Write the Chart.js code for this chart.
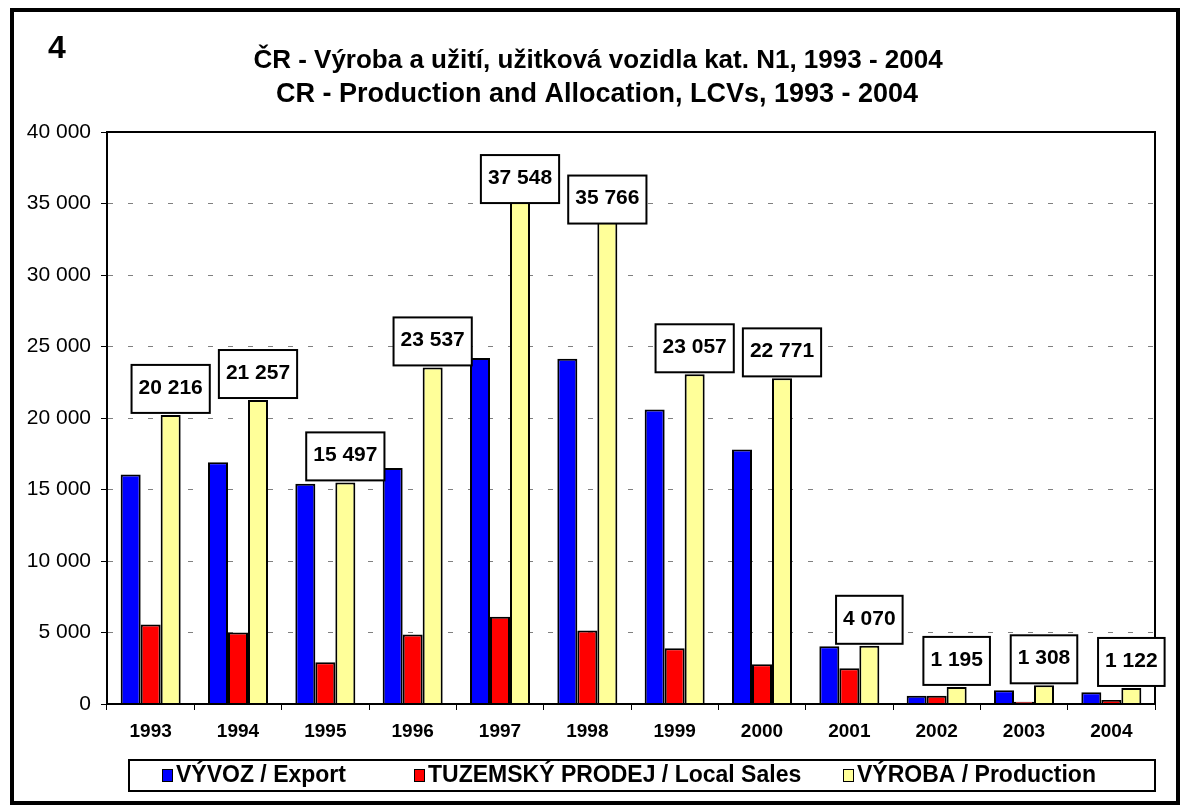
<!DOCTYPE html>
<html>
<head>
<meta charset="utf-8">
<script src="https://cdn.jsdelivr.net/npm/chart.js@4.4.1/dist/chart.umd.min.js"></script>
<style>
html,body{margin:0;padding:0;background:#fff;overflow:hidden}
#wrap{width:1181px;height:805px;position:relative}
</style>
</head>
<body>
<div id="wrap"><canvas id="c" width="1181" height="805"></canvas></div>
<script>
// ---- data ----
const categories = ['1993','1994','1995','1996','1997','1998','1999','2000','2001','2002','2003','2004'];
const exportValues = [16050, 16900, 15400, 16500, 24200, 24150, 20600, 17800, 4030, 580, 970, 830];
const localSalesValues = [5560, 5000, 2920, 4860, 6110, 5140, 3890, 2780, 2500, 580, 160, 280];
const productionValues = [20216, 21257, 15497, 23537, 37548, 35766, 23057, 22771, 4070, 1195, 1308, 1122];
const seriesLabels = ['VÝVOZ / Export', 'TUZEMSKÝ PRODEJ / Local Sales', 'VÝROBA / Production'];
const yTickValues = [0, 5000, 10000, 15000, 20000, 25000, 30000, 35000, 40000];
const titleLines = ['ČR - Výroba a užití, užitková vozidla kat. N1, 1993 - 2004',
                    'CR - Production and Allocation, LCVs, 1993 - 2004'];
const chartNumber = '4';

const FONT = '"Liberation Sans", Arial, Helvetica, sans-serif';
const fmt = v => String(Math.round(v)).replace(/\B(?=(\d{3})+(?!\d))/g, ' ');

const decorPlugin = {
  id: 'decor',
  beforeDraw(chart) {
    const ctx = chart.ctx;
    ctx.save();
    ctx.fillStyle = '#fff';
    ctx.fillRect(0, 0, chart.width, chart.height);
    ctx.restore();
  },
  afterDatasetsDraw(chart) {
    const ctx = chart.ctx;
    const a = chart.chartArea;
    ctx.save();
    ctx.strokeStyle = '#000';
    ctx.lineWidth = 2;
    ctx.strokeRect(a.left, a.top, a.right - a.left, a.bottom - a.top);
    ctx.restore();
  },
  afterDraw(chart) {
    const ctx = chart.ctx;
    ctx.save();
    // outer frame
    ctx.strokeStyle = '#000';
    ctx.lineWidth = 4;
    ctx.strokeRect(12, 10, 1166, 793);
    // number
    ctx.fillStyle = '#000';
    ctx.font = 'bold 32px ' + FONT;
    ctx.textAlign = 'left';
    ctx.textBaseline = 'alphabetic';
    ctx.fillText(chartNumber, 48, 58);
    // title
    ctx.textAlign = 'center';
    ctx.font = 'bold 26px ' + FONT;
    ctx.fillText(titleLines[0], 598, 68);
    ctx.font = 'bold 27px ' + FONT;
    ctx.fillText(titleLines[1], 597, 102);
    // legend
    const lx = 129, ly = 760, lw = 1026, lh = 31;
    ctx.fillStyle = '#fff';
    ctx.fillRect(lx, ly, lw, lh);
    ctx.lineWidth = 2;
    ctx.strokeStyle = '#000';
    ctx.strokeRect(lx, ly, lw, lh);
    const itemX = [162, 414, 843];
    ctx.font = 'bold 23px ' + FONT;
    ctx.textAlign = 'left';
    ctx.textBaseline = 'middle';
    chart.data.datasets.forEach((ds, i) => {
      const x = itemX[i];
      ctx.fillStyle = ds.backgroundColor;
      ctx.fillRect(x, 769, 11, 13);
      ctx.lineWidth = 1;
      ctx.strokeStyle = '#000';
      ctx.strokeRect(x + 0.5, 769.5, 10, 12);
      ctx.fillStyle = '#000';
      ctx.fillText(ds.label, x + 14, 776);
    });
    ctx.restore();
  }
};

const valueLabelPlugin = {
  id: 'valueLabels',
  afterDatasetsDraw(chart, args, opts) {
    const ctx = chart.ctx;
    const meta = chart.getDatasetMeta(2);
    const data = chart.data.datasets[2].data;
    ctx.save();
    ctx.font = 'bold 21px ' + FONT;
    ctx.textAlign = 'center';
    ctx.textBaseline = 'middle';
    meta.data.forEach((el, i) => {
      const txt = fmt(data[i]);
      const w = ctx.measureText(txt).width + 14;
      const h = 48;
      const bottom = el.y - 2 + (opts.shift[i] || 0);
      const x = el.x - w / 2;
      const y = bottom - h;
      ctx.fillStyle = '#fff';
      ctx.fillRect(x, y, w, h);
      ctx.lineWidth = 2;
      ctx.strokeStyle = '#000';
      ctx.strokeRect(x, y, w, h);
      ctx.fillStyle = '#000';
      ctx.fillText(txt, el.x, y + h / 2 - 1);
    });
    ctx.restore();
  }
};

new Chart(document.getElementById('c'), {
  type: 'bar',
  data: {
    labels: categories,
    datasets: [
      { label: seriesLabels[0], data: exportValues, backgroundColor: '#0000FF' },
      { label: seriesLabels[1], data: localSalesValues, backgroundColor: '#FF0000' },
      { label: seriesLabels[2], data: productionValues, backgroundColor: '#FFFF99' }
    ].map(d => Object.assign(d, { borderColor: '#000', borderWidth: 2, barPercentage: 1, categoryPercentage: 0.687 }))
  },
  plugins: [decorPlugin, valueLabelPlugin],
  options: {
    responsive: false,
    animation: false,
    events: [],
    devicePixelRatio: 1,
    layout: { padding: { left: 0, top: 132, right: 26, bottom: 61 } },
    plugins: {
      legend: { display: false },
      title: { display: false },
      tooltip: { enabled: false },
      valueLabels: { shift: [0, 0, 0, 0, 38, 33, 0, 0, 0, 0, 0, 0] }
    },
    scales: {
      x: {
        ticks: { font: { family: FONT, size: 19, weight: 'bold' }, color: '#000', padding: 10, maxRotation: 0, autoSkip: false },
        grid: { offset: true, drawOnChartArea: false, drawTicks: true, tickLength: 6, tickColor: '#000', color: '#000', lineWidth: 1 },
        border: { color: '#000', width: 2 },
        afterFit: s => { s.height = 40; }
      },
      y: {
        min: 0, max: 40000,
        afterBuildTicks: axis => { axis.ticks = yTickValues.map(v => ({ value: v })); },
        ticks: { callback: v => fmt(v), font: { family: FONT, size: 21 }, color: '#000', padding: 10 },
        grid: {
          color: c => (c.tick && (c.tick.value === 0 || c.tick.value === 40000)) ? 'rgba(0,0,0,0)' : '#808080',
          lineWidth: 1, tickColor: '#000', tickLength: 6, drawTicks: true
        },
        border: { display: true, color: '#000', width: 2, dash: [5, 15] },
        afterFit: s => { s.width = 107; }
      }
    }
  }
});
</script>
</body>
</html>
